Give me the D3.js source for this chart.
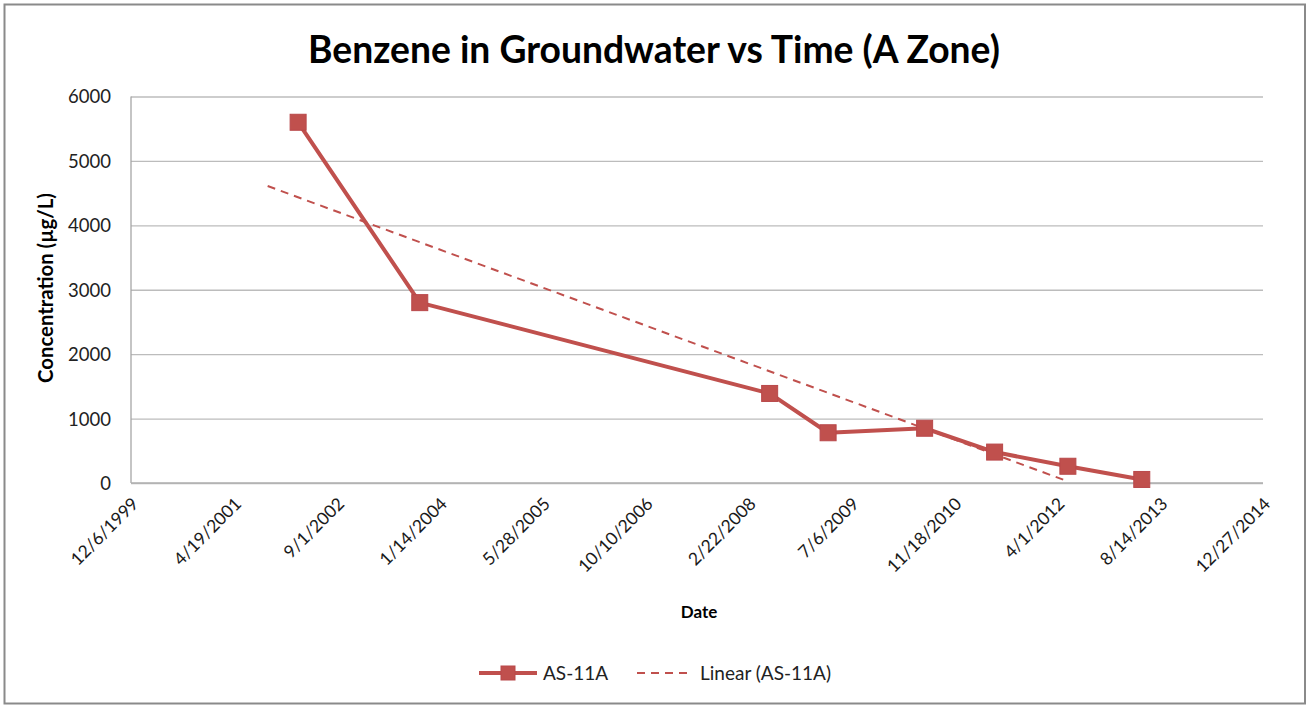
<!DOCTYPE html>
<html>
<head>
<meta charset="utf-8">
<script src="https://cdn.jsdelivr.net/npm/d3@7"></script>
<style>
  html, body { margin: 0; padding: 0; background: #fff; }
  svg { display: block; }
  text { font-family: Lato, "Open Sans", sans-serif; }
</style>
</head>
<body>
<svg id="chart" width="1307" height="706"></svg>
<script>
// ---- data ----
const sampleDates = ["2/25/2002", "10/9/2003", "6/4/2008", "3/15/2009", "6/27/2010", "6/2/2011", "5/23/2012", "5/17/2013"];
const benzeneValues = [5600, 2800, 1390, 780, 850, 480, 260, 55];
const trendDates = ["9/30/2001", "5/23/2012"];
const trendValues = [4610, 25];
const xTickLabels = ["12/6/1999", "4/19/2001", "9/1/2002", "1/14/2004", "5/28/2005", "10/10/2006", "2/22/2008", "7/6/2009", "11/18/2010", "4/1/2012", "8/14/2013", "12/27/2014"];
const yTickValues = [0, 1000, 2000, 3000, 4000, 5000, 6000];
const titleText = "Benzene in Groundwater vs Time (A Zone)";
const xAxisTitle = "Date";
const yAxisTitle = "Concentration (µg/L)";
const seriesName = "AS-11A";
const trendName = "Linear (AS-11A)";

const parse = d3.utcParse("%m/%d/%Y");
const series = sampleDates.map((d, i) => ({ date: parse(d), value: benzeneValues[i] }));
const trend = trendDates.map((d, i) => ({ date: parse(d), value: trendValues[i] }));
const xTicks = xTickLabels.map(s => ({ date: parse(s), label: s }));

const RED = "#C0504D";
const svg = d3.select("#chart");

// outer border
svg.append("rect").attr("x", 4.5).attr("y", 4.5).attr("width", 1300.5).attr("height", 699)
  .attr("fill", "#fff").attr("stroke", "#8a8a8a").attr("stroke-width", 2);

const plot = { left: 131, right: 1263, top: 96.5, bottom: 483 };

const x = d3.scaleUtc()
  .domain([xTicks[0].date, xTicks[xTicks.length - 1].date])
  .range([plot.left, plot.right]);
const y = d3.scaleLinear().domain([0, 6000]).range([plot.bottom, plot.top]);

// gridlines via axis
const yGrid = d3.axisLeft(y).tickValues(yTickValues).tickSize(-(plot.right - plot.left)).tickFormat("");
const gGrid = svg.append("g").attr("transform", `translate(${plot.left},0)`).call(yGrid);
gGrid.select(".domain").remove();
gGrid.selectAll(".tick line").attr("stroke", "#bcbcbc").attr("stroke-width", 1.3);

// left axis line
svg.append("line").attr("x1", plot.left).attr("x2", plot.left)
  .attr("y1", plot.top).attr("y2", plot.bottom)
  .attr("stroke", "#a6a6a6").attr("stroke-width", 1.3);
// bottom axis line
svg.append("line").attr("x1", plot.left).attr("x2", plot.right)
  .attr("y1", plot.bottom).attr("y2", plot.bottom)
  .attr("stroke", "#b0b0b0").attr("stroke-width", 1.5);

// y tick labels
const yAxis = d3.axisLeft(y).tickValues(yTickValues).tickSize(0).tickPadding(20).tickFormat(d3.format("d"));
const gY = svg.append("g").attr("transform", `translate(${plot.left},0)`).call(yAxis);
gY.select(".domain").remove();
gY.selectAll("text").attr("font-family", "Lato, sans-serif").attr("font-size", 18.5)
  .attr("fill", "#222").attr("dy", "0.35em");

// x tick labels
const xAxis = d3.axisBottom(x).tickValues(xTicks.map(t => t.date)).tickSize(0)
  .tickFormat((d, i) => xTicks[i].label);
const gX = svg.append("g").attr("transform", `translate(0,${plot.bottom})`).call(xAxis);
gX.select(".domain").remove();
gX.selectAll("text")
  .attr("font-family", "Lato, sans-serif").attr("font-size", 17.5)
  .attr("fill", "#1a1a1a")
  .attr("text-anchor", "end")
  .attr("dy", 0).attr("y", 0)
  .attr("transform", "translate(8,22) rotate(-45)");

// trend line
const line = d3.line().x(d => x(d.date)).y(d => y(d.value));
svg.append("path").datum(trend).attr("d", line)
  .attr("fill", "none").attr("stroke", RED).attr("stroke-width", 2)
  .attr("stroke-dasharray", "8,6");

// series line
svg.append("path").datum(series).attr("d", line)
  .attr("fill", "none").attr("stroke", RED).attr("stroke-width", 4)
  .attr("stroke-linejoin", "round");

// markers
const ms = 16;
svg.append("g").selectAll("rect").data(series).join("rect")
  .attr("x", d => x(d.date) - ms / 2).attr("y", d => y(d.value) - ms / 2)
  .attr("width", ms).attr("height", ms)
  .attr("fill", RED).attr("stroke", "#b9484a").attr("stroke-width", 1);

// helper to fit text width
function fit(sel, target) {
  const w = sel.node().getComputedTextLength();
  const fs = parseFloat(sel.attr("font-size"));
  sel.attr("font-size", fs * target / w);
}

// title
const t = svg.append("text").attr("x", 654).attr("y", 63).attr("text-anchor", "middle")
  .attr("font-size", 32).attr("font-weight", "bold").attr("fill", "#000").text(titleText);
fit(t, 692);

// axis titles
svg.append("text").attr("x", 699).attr("y", 618).attr("text-anchor", "middle")
  .attr("font-size", 17).attr("font-weight", "bold").attr("fill", "#000").text(xAxisTitle);
const yt = svg.append("text").attr("transform", "translate(53,288) rotate(-90)")
  .attr("text-anchor", "middle")
  .attr("font-size", 16).attr("font-weight", "bold").attr("fill", "#000").text(yAxisTitle);
fit(yt, 190);

// legend
const lg = svg.append("g");
const ly = 673;
lg.append("line").attr("x1", 479).attr("x2", 537).attr("y1", ly).attr("y2", ly)
  .attr("stroke", RED).attr("stroke-width", 4);
lg.append("rect").attr("x", 508 - 7).attr("y", ly - 7).attr("width", 14).attr("height", 14)
  .attr("fill", RED).attr("stroke", "#b9484a").attr("stroke-width", 1);
lg.append("text").attr("x", 543).attr("y", ly).attr("dy", "0.35em")
  .attr("font-size", 19).attr("fill", "#222").text(seriesName);
lg.append("line").attr("x1", 637).attr("x2", 691).attr("y1", ly).attr("y2", ly)
  .attr("stroke", RED).attr("stroke-width", 2).attr("stroke-dasharray", "8,6");
lg.append("text").attr("x", 700).attr("y", ly).attr("dy", "0.35em")
  .attr("font-size", 19).attr("fill", "#222").text(trendName);
</script>
</body>
</html>
